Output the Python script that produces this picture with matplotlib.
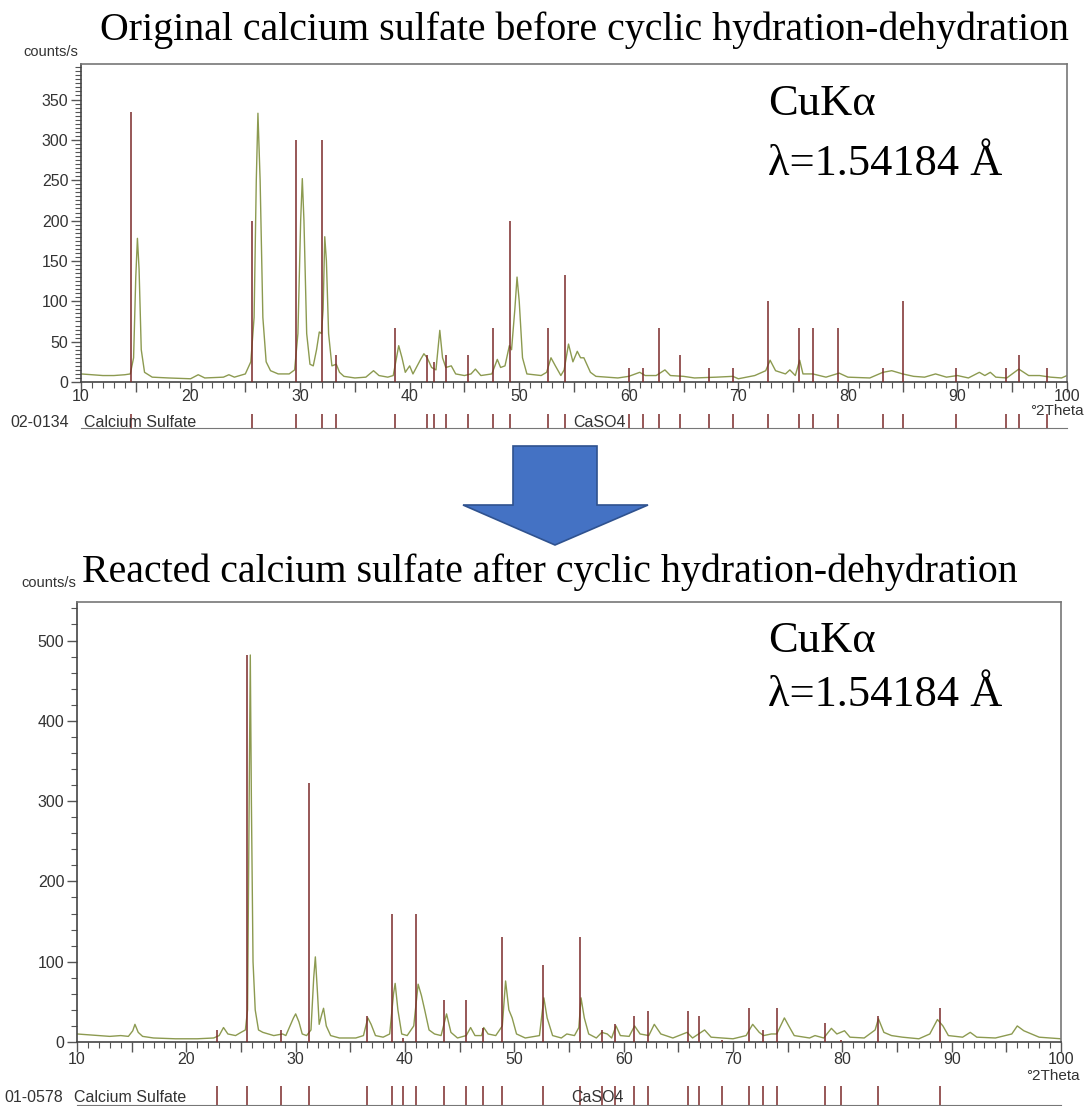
import matplotlib
matplotlib.use("Agg")
import matplotlib.pyplot as plt
from matplotlib.patches import Polygon
from matplotlib.ticker import MultipleLocator, FuncFormatter

W, H = 1086, 1106

# --- original calcium sulfate (top) ---
orig_2theta = [10, 11, 12, 13, 14, 14.5, 14.8, 15.0, 15.15, 15.3, 15.5, 15.8, 16.5, 18, 20, 20.7,
               21.3, 23, 23.5, 24, 25, 25.5, 25.8, 26.0, 26.15, 26.35, 26.6, 26.9, 27.3, 28, 29,
               29.5, 29.8, 30.05, 30.2, 30.35, 30.6, 30.9, 31.2, 31.5, 31.75, 31.95, 32.1, 32.25,
               32.4, 32.6, 32.9, 33.3, 33.6, 34, 35, 36, 36.7, 37.2, 38, 38.5, 38.8, 39.0, 39.3,
               39.6, 40.0, 40.3, 41.0, 41.3, 41.6, 42.0, 42.4, 42.75, 43.0, 43.3, 43.8, 44.2, 45,
               45.6, 46, 46.5, 47.5, 48.0, 48.3, 48.7, 49.1, 49.3, 49.6, 49.8, 50.0, 50.3, 50.7,
               52, 52.5, 52.9, 53.3, 53.8, 54.1, 54.5, 54.9, 55.3, 55.6, 55.9, 56.5, 57, 59, 60,
               61, 61.5, 62.5, 63.3, 63.8, 65, 66, 68, 69.5, 70, 71.5, 72.5, 72.9, 73.4, 74.3,
               74.7, 75.2, 75.6, 75.9, 76.8, 78, 79.2, 80, 82, 83.2, 84, 85, 86, 87, 88, 89, 90,
               91, 92, 92.5, 93, 93.5, 94.5, 95.6, 96.5, 97.5, 98.5, 99.5, 100]
orig_counts = [10, 9, 8, 8, 9, 10, 30, 130, 178, 140, 40, 12, 6, 5, 4, 9,
               5, 6, 9, 6, 10, 25, 80, 250, 333, 250, 80, 25, 14, 10, 10,
               15, 60, 200, 252, 200, 60, 22, 20, 40, 62, 60, 90, 180,
               150, 60, 20, 22, 12, 7, 5, 6, 14, 8, 6, 8, 30, 45, 30,
               12, 20, 10, 28, 35, 30, 18, 15, 64, 30, 18, 20, 10, 8,
               10, 16, 8, 10, 28, 18, 20, 45, 40, 90, 130, 100, 30, 10,
               8, 12, 30, 20, 8, 15, 47, 25, 38, 30, 30, 12, 7, 5, 7,
               12, 8, 8, 15, 8, 7, 5, 6, 7, 4, 8, 14, 27, 14, 10,
               15, 8, 27, 10, 10, 6, 11, 6, 5, 12, 14, 10, 7, 6, 10, 6, 8,
               5, 12, 8, 12, 6, 5, 16, 8, 8, 6, 5, 8]
orig_ref_pos = [14.6, 25.6, 29.6, 32.0, 33.3, 38.7, 41.6, 42.2, 43.3, 45.3, 47.6, 49.2, 52.6,
                54.2, 60.0, 61.3, 62.8, 64.7, 67.3, 69.5, 72.7, 75.5, 76.8, 79.1, 83.2, 85.0,
                89.9, 94.4, 95.6, 98.2]
orig_ref_int = [334, 200, 300, 300, 33, 67, 33, 25, 33, 33, 67, 200, 67,
                133, 17, 17, 67, 33, 17, 17, 100, 67, 67, 67, 17, 100,
                17, 17, 33, 17]

# --- reacted calcium sulfate (bottom) ---
react_2theta = [10, 11, 12, 13, 14, 14.7, 15.1, 15.3, 15.6, 16, 17, 19, 21, 22.5, 23.0, 23.4,
                23.8, 24.5, 25.0, 25.4, 25.6, 25.75, 25.85, 25.95, 26.1, 26.3, 26.6, 27, 28, 28.8,
                29.1, 29.8, 30.0, 30.3, 30.6, 31.0, 31.4, 31.65, 31.8, 32.0, 32.15, 32.4, 32.55,
                32.8, 33.2, 34, 35.5, 36.2, 36.6, 36.9, 37.3, 38, 38.6, 38.95, 39.1, 39.35, 39.7,
                40.2, 40.8, 41.2, 41.5, 41.8, 42.2, 42.7, 43.3, 43.8, 44.2, 44.8, 45.6, 46.0, 46.4,
                47.0, 47.2, 47.6, 48.3, 48.9, 49.2, 49.5, 49.8, 50.2, 51, 52.3, 52.7, 53.0, 53.5,
                54.3, 54.8, 55.5, 55.9, 56.1, 56.4, 56.8, 57.5, 58.0, 58.5, 58.9, 59.3, 59.7, 60.5,
                61.0, 61.5, 62.3, 62.8, 63.4, 64.5, 65.8, 66.3, 67.4, 68, 70, 71.2, 71.8, 72.4,
                72.8, 73.5, 74.0, 74.7, 75.1, 75.6, 77, 77.5, 78.3, 79.0, 79.5, 80.2, 80.7, 82,
                83.0, 83.3, 83.8, 84.5, 85.5, 87, 88, 88.7, 89.2, 89.7, 91, 91.7, 92.3, 94, 95.5,
                96.0, 96.6, 98, 100]
react_counts = [10, 9, 8, 7, 8, 7, 14, 22, 12, 7, 5, 4, 4, 5, 8, 18,
                10, 8, 12, 15, 40, 300, 482, 300, 100, 40, 15, 12, 8, 10,
                8, 30, 35, 25, 10, 8, 15, 80, 106, 60, 22, 35, 42,
                20, 8, 5, 5, 8, 30, 22, 8, 6, 10, 60, 73, 40, 10,
                8, 20, 72, 58, 40, 15, 10, 8, 35, 12, 5, 8, 18, 8,
                8, 18, 10, 8, 20, 76, 40, 30, 10, 5, 8, 55, 30, 8,
                5, 10, 8, 18, 55, 30, 10, 5, 12, 10, 5, 20, 8, 7,
                20, 10, 8, 22, 10, 5, 12, 5, 15, 6, 4, 8, 22, 12,
                8, 10, 10, 30, 20, 8, 5, 8, 5, 17, 10, 14, 6, 5,
                15, 29, 12, 8, 6, 4, 10, 28, 20, 8, 6, 12, 6, 5, 10,
                20, 14, 6, 4]
react_ref_pos = [22.84, 25.53, 28.64, 31.25, 36.5, 38.8, 39.85, 41.0, 43.6, 45.56, 47.1, 48.9,
                 52.6, 56.0, 58.0, 59.2, 60.96, 62.27, 65.84, 66.85, 69.0, 71.5, 72.7, 74.0,
                 78.4, 79.9, 83.3, 88.96]
react_ref_int = [15, 482, 15, 323, 33, 159, 5, 159, 52, 52, 18, 131,
                 96, 131, 15, 23, 33, 38, 38, 33, 3, 42, 15, 42,
                 24, 3, 33, 42]

curve_color = "#8c9a50"
stick_color = "#7a2a2a"
tick_color = "#555555"
sans = "Liberation Sans"
serif = "Liberation Serif"


def box(l, t, r, b):
    return [l / W, 1 - b / H, (r - l) / W, (b - t) / H]


def tens_only(v, pos):
    return f"{v:.0f}" if round(v) % 10 == 0 else ""


def pattern_axes(fig, rect, x, y, sticks, heights, ytop, ymajor, yminor, xpad):
    ax = fig.add_axes(rect)
    ax.plot(x, y, color=curve_color, lw=1.0, zorder=2)
    ax.vlines(sticks, 0, heights, color=stick_color, lw=1.1, zorder=3)
    ax.set_xlim(10, 100)
    ax.set_ylim(0, ytop)
    ax.xaxis.set_major_locator(MultipleLocator(5))
    ax.xaxis.set_major_formatter(FuncFormatter(tens_only))
    ax.xaxis.set_minor_locator(MultipleLocator(1))
    ax.yaxis.set_major_locator(MultipleLocator(ymajor))
    ax.yaxis.set_minor_locator(MultipleLocator(yminor))
    ax.tick_params(which="major", length=7, width=1, color=tick_color, labelcolor="#333333",
                   labelsize=11.5, pad=2)
    ax.tick_params(axis="x", which="major", pad=xpad)
    ax.tick_params(which="minor", length=4, width=0.8, color=tick_color)
    for lab in ax.get_xticklabels() + ax.get_yticklabels():
        lab.set_fontfamily(sans)
    for s in ax.spines.values():
        s.set_color("#777777")
        s.set_linewidth(1.2)
    ax.spines["left"].set_color("#444444")
    ax.spines["bottom"].set_color("#444444")
    return ax


def strip_axes(fig, rect, sticks):
    ax = fig.add_axes(rect)
    ax.vlines(sticks, 0, 1, color=stick_color, lw=1.1)
    ax.set_xlim(10, 100)
    ax.set_ylim(0, 1)
    ax.set_xticks([])
    ax.set_yticks([])
    for k in ["left", "right", "top"]:
        ax.spines[k].set_visible(False)
    ax.spines["bottom"].set_color("#777777")
    ax.patch.set_alpha(0)
    return ax


fig = plt.figure(figsize=(W / 100, H / 100), dpi=100)

# top panel
ax1 = pattern_axes(fig, box(81, 64, 1067, 382), orig_2theta, orig_counts,
                   orig_ref_pos, orig_ref_int, 394, 50, 5, -2)
strip_axes(fig, box(81, 414, 1067, 428), orig_ref_pos)

# bottom panel
ax2 = pattern_axes(fig, box(77, 602, 1061, 1042), react_2theta, react_counts,
                   react_ref_pos, react_ref_int, 548, 100, 20, 0)
strip_axes(fig, box(77, 1086, 1061, 1105), react_ref_pos)


def ftext(x, y, s, **kw):
    fig.text(x / W, 1 - y / H, s, **kw)


ftext(100, 30, "Original calcium sulfate before cyclic hydration-dehydration",
      family=serif, fontsize=28.7, ha="left", va="center")
ftext(82, 572, "Reacted calcium sulfate after cyclic hydration-dehydration",
      family=serif, fontsize=28.7, ha="left", va="center")

for y1, y2 in [(104, 164), (641, 695)]:
    ftext(768, y1, "CuKα", family=serif, fontsize=32, ha="left", va="center")
    ftext(768, y2, "λ=1.54184 Å", family=serif, fontsize=32, ha="left", va="center")

ftext(78, 52, "counts/s", family=sans, fontsize=10.5, color="#333333", ha="right", va="center")
ftext(76, 583, "counts/s", family=sans, fontsize=10.5, color="#333333", ha="right", va="center")
ftext(1084, 411, "°2Theta", family=sans, fontsize=11, color="#333333", ha="right", va="center")
ftext(1080, 1076, "°2Theta", family=sans, fontsize=11, color="#333333", ha="right", va="center")

ftext(10, 422, "02-0134", family=sans, fontsize=11.5, color="#333333", ha="left", va="center")
ftext(84, 422, "Calcium Sulfate", family=sans, fontsize=11.5, color="#333333", ha="left", va="center")
ftext(573, 422, "CaSO4", family=sans, fontsize=11.5, color="#333333", ha="left", va="center")
ftext(4, 1097, "01-0578", family=sans, fontsize=11.5, color="#333333", ha="left", va="center")
ftext(74, 1097, "Calcium Sulfate", family=sans, fontsize=11.5, color="#333333", ha="left", va="center")
ftext(571, 1097, "CaSO4", family=sans, fontsize=11.5, color="#333333", ha="left", va="center")

# block arrow between the panels
arrow_px = [(513, 446), (597, 446), (597, 505), (648, 505), (555, 545), (463, 505), (513, 505)]
arrow = Polygon([(x / W, 1 - y / H) for x, y in arrow_px], closed=True,
                facecolor="#4472c4", edgecolor="#2f528f", lw=1.2, transform=fig.transFigure)
fig.patches.append(arrow)

fig.savefig("out.png", dpi=100)
